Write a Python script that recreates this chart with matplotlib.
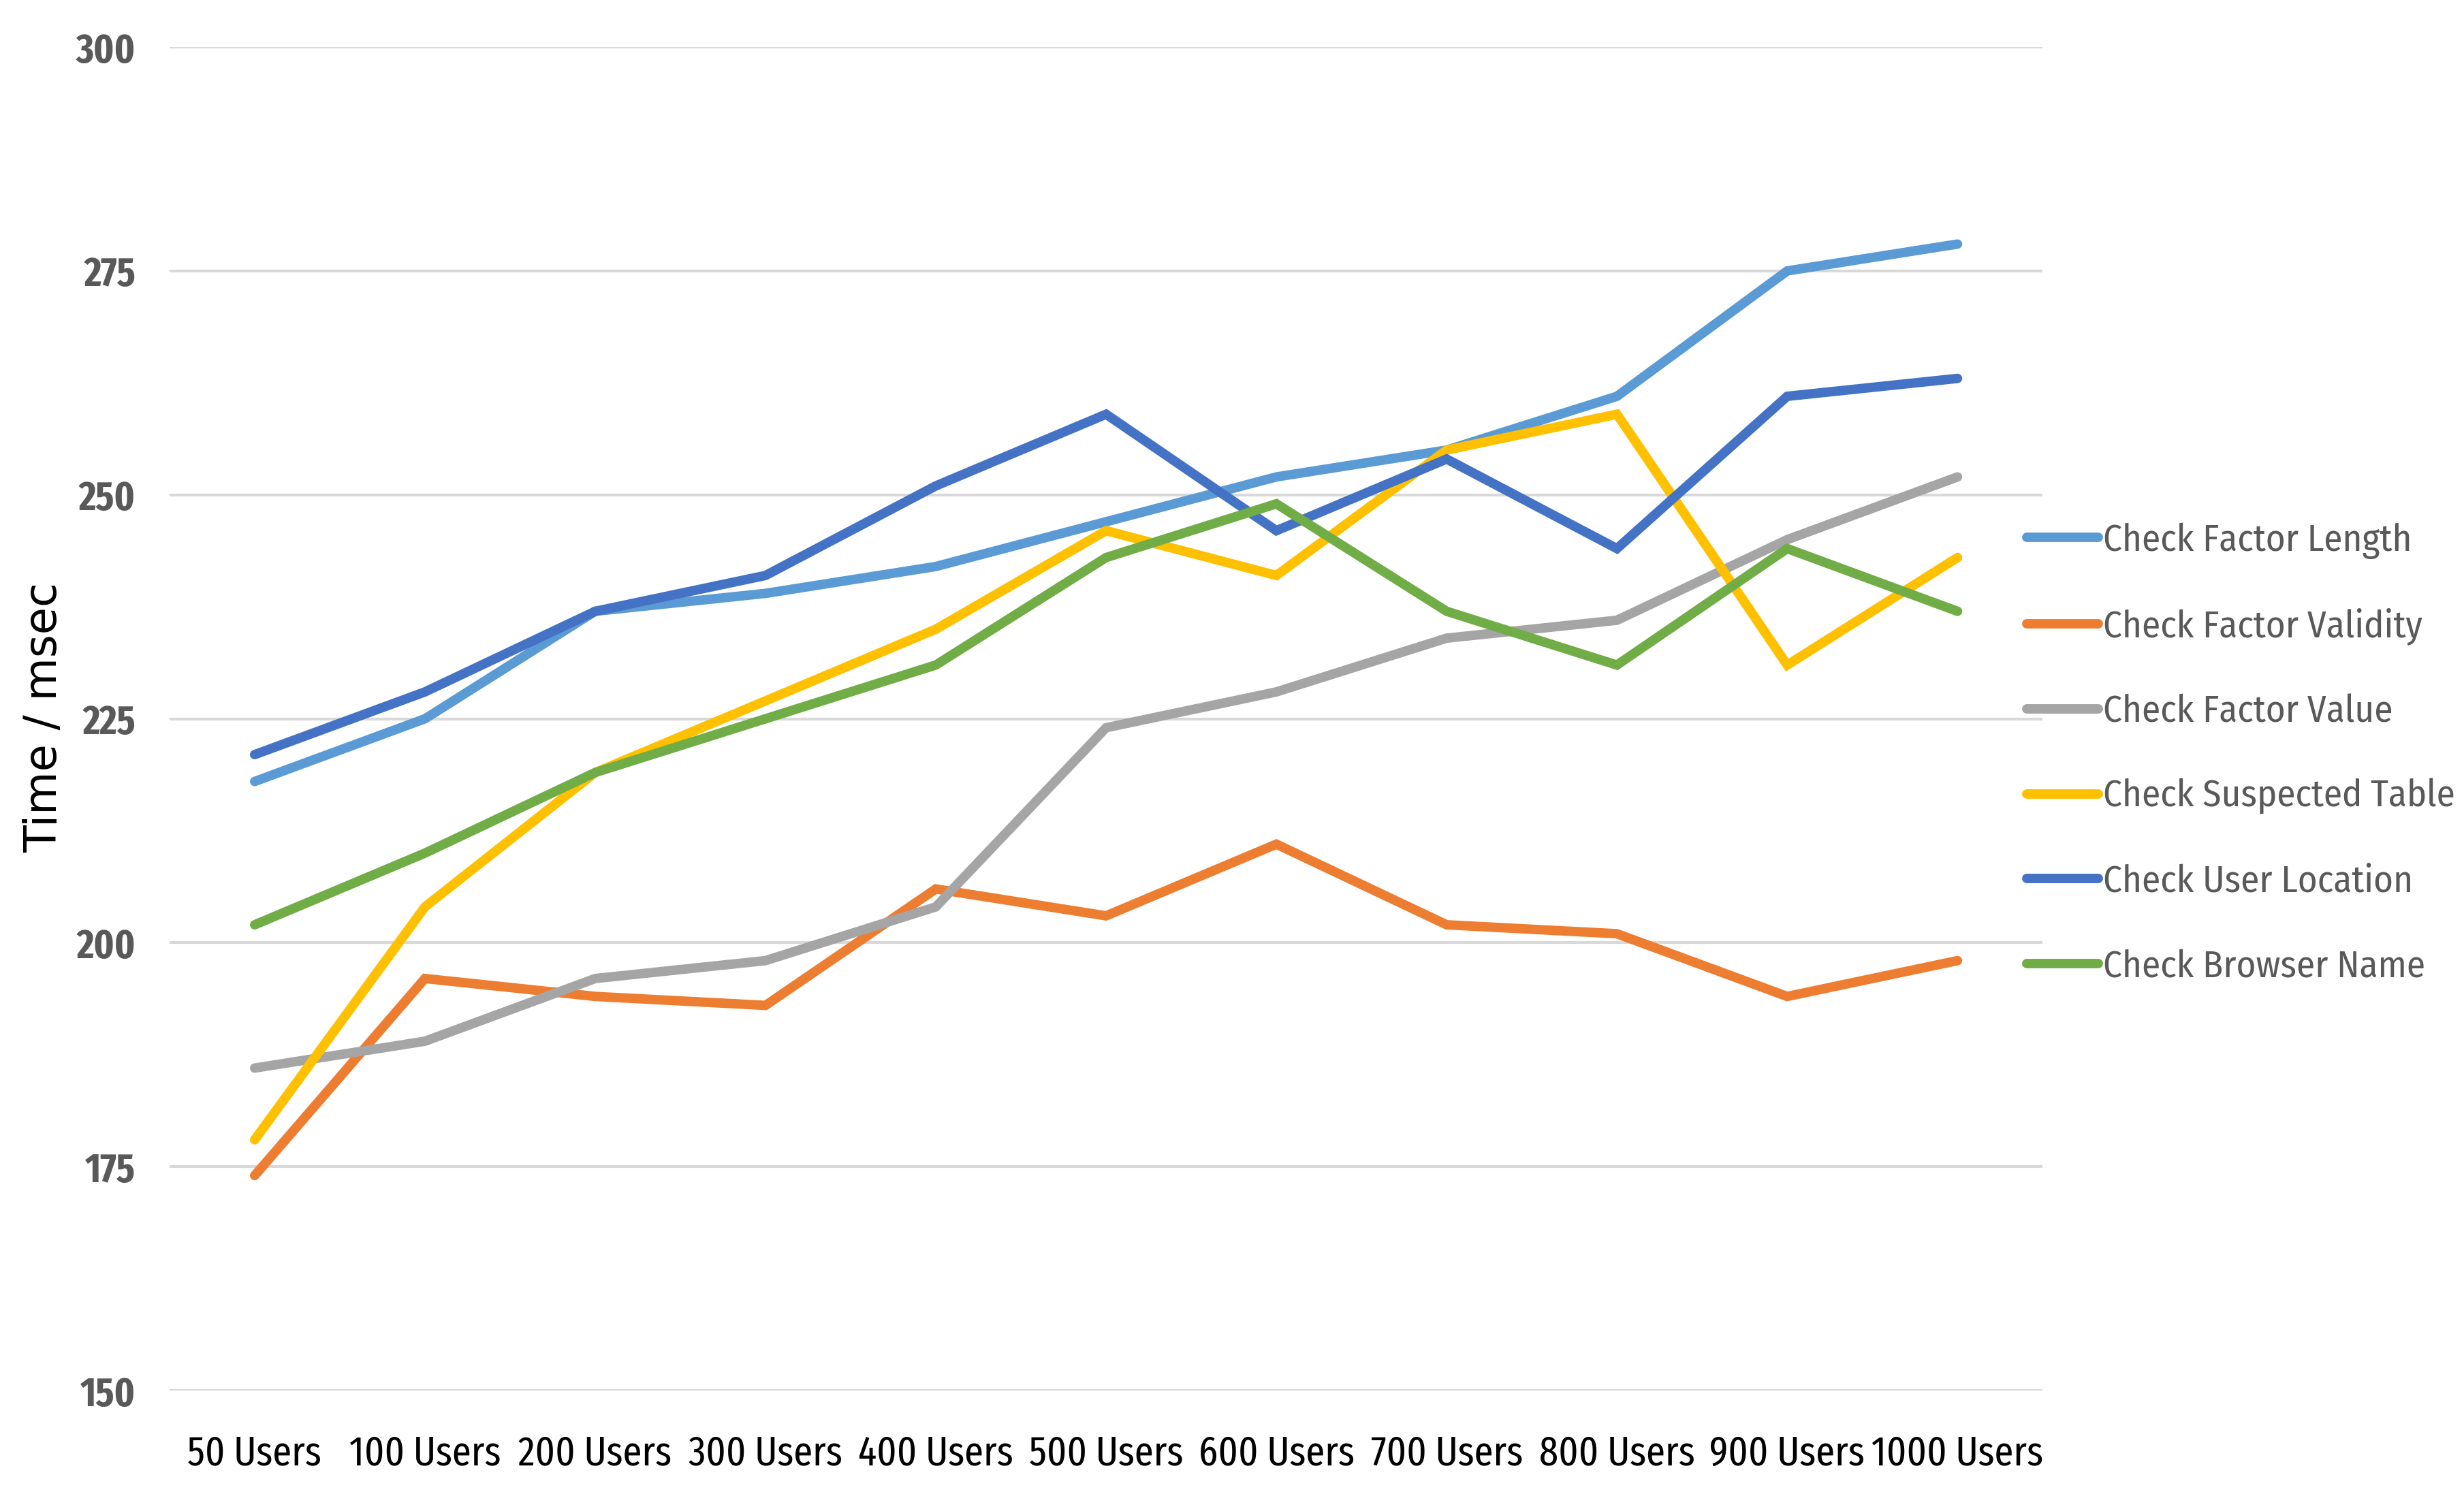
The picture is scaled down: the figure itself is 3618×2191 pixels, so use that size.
import matplotlib
matplotlib.use('Agg')
from matplotlib import pyplot as plt
import numpy as np

users=['50 Users','100 Users','200 Users','300 Users','400 Users','500 Users',
       '600 Users','700 Users','800 Users','900 Users','1000 Users']
factor_length=[218,225,237,239,242,247,252,255,261,275,278]
factor_validity=[174,196,194,193,206,203,211,202,201,194,198]
factor_value=[186,189,196,198,204,224,228,234,236,245,252]
suspected_table=[178,204,219,227,235,246,241,255,259,231,243]
user_location=[221,228,237,241,251,259,246,254,244,261,263]
browser_name=[202,210,219,225,231,243,249,237,231,244,237]

series=[('Check Factor Length',factor_length,'#5B9BD5'),
        ('Check Factor Validity',factor_validity,'#ED7D31'),
        ('Check Factor Value',factor_value,'#A5A5A5'),
        ('Check Suspected Table',suspected_table,'#FFC000'),
        ('Check User Location',user_location,'#4472C4'),
        ('Check Browser Name',browser_name,'#70AD47')]

xcond=['Fira Sans Extra Condensed','Roboto Condensed','DejaVu Sans']
cond=['Fira Sans Condensed','Roboto Condensed','DejaVu Sans']
plt.rcParams['font.family']=cond

fig=plt.figure(figsize=(18.09,10.955),dpi=200)
ax=fig.add_axes([0.0688,0.068,0.829-0.0688,0.9685-0.068])
x=np.arange(len(users))
for name,vals,col in series:
    ax.plot(x,vals,color=col,lw=5,label=name,solid_capstyle='round',solid_joinstyle='miter')

ax.set_xlim(-0.5,len(users)-0.5)
ax.set_ylim(150,300)
ax.set_yticks(np.arange(150,301,25))
ax.set_xticks(x)
ax.set_xticklabels(users,fontsize=22,color='black',family=xcond)
for t in ax.get_yticklabels():
    t.set_fontsize(21.5); t.set_fontweight('bold'); t.set_color('#595959'); t.set_family(xcond)
ax.tick_params(axis='both',length=0)
ax.tick_params(axis='y',pad=18)
ax.tick_params(axis='x',pad=23)
ax.grid(axis='y',color='#D9D9D9',lw=1.5)
ax.set_axisbelow(True)
for s in ax.spines.values():
    s.set_visible(False)

fig.text(0.018,0.519,'Time / msec',rotation=90,va='center',ha='center',
         fontsize=23.5,family='DejaVu Sans',color='black')

leg=fig.legend(loc='center left',bbox_to_anchor=(0.809,0.495),frameon=False,
               fontsize=19.8,handlelength=1.9,handletextpad=0.12,labelspacing=1.3)
for t in leg.get_texts():
    t.set_color('#595959')

fig.savefig('out.png',dpi=200)
